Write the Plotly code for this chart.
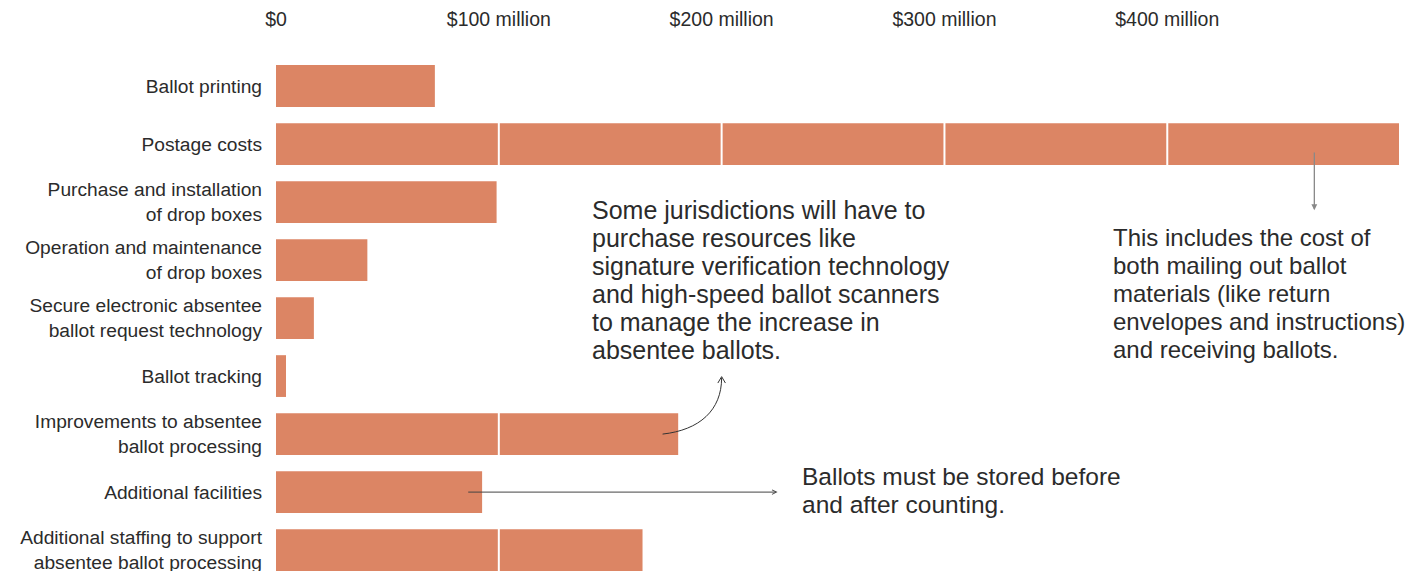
import plotly.graph_objects as go

categories = [
    "Ballot printing",
    "Postage costs",
    "Purchase and installation<br>of drop boxes",
    "Operation and maintenance<br>of drop boxes",
    "Secure electronic absentee<br>ballot request technology",
    "Ballot tracking",
    "Improvements to absentee<br>ballot processing",
    "Additional facilities",
    "Additional staffing to support<br>absentee ballot processing",
]
costs_millions = [71.3, 504, 99, 41, 17, 4.5, 180.5, 92.5, 164.5]
tick_values = [0, 100, 200, 300, 400]
tick_labels = ["$0", "$100 million", "$200 million", "$300 million", "$400 million"]

note_equipment = ["Some jurisdictions will have to", "purchase resources like",
                  "signature verification technology", "and high-speed ballot scanners",
                  "to manage the increase in", "absentee ballots."]
note_postage = ["This includes the cost of", "both mailing out ballot",
                "materials (like return", "envelopes and instructions)",
                "and receiving ballots."]
note_facilities = ["Ballots must be stored before", "and after counting."]

BAR = "#DC8564"
TEXT = "#2b2b2b"
FONT = "Liberation Sans, Arial, sans-serif"
LINE_H = 28

positions = list(range(len(categories)))

fig = go.Figure(go.Bar(
    x=costs_millions, y=positions, orientation="h",
    marker=dict(color=BAR, line=dict(width=0)),
    hoverinfo="skip",
))

shapes = []
for v in tick_values[1:]:
    shapes.append(dict(type="line", xref="x", yref="paper", x0=v, x1=v, y0=0, y1=1,
                       line=dict(color="white", width=2), layer="above"))

# curved arrow for the equipment note
shapes.append(dict(type="path", xref="x", yref="y",
                   path="M 173.5,6.0 C 190.1,5.93 200,5.59 200,5.03",
                   line=dict(color="#333333", width=1)))
shapes.append(dict(type="path", xref="x", yref="y",
                   path="M 198.3,5.12 L 200,5.01 L 201.7,5.12",
                   line=dict(color="#333333", width=1)))

ann_font = dict(family=FONT, size=24.5, color=TEXT, shadow="auto")
annotations = []


def add_note(lines, x, y, size=24.5):
    f = dict(ann_font, size=size)
    for i, line in enumerate(lines):
        annotations.append(dict(x=x, y=y, xref="x", yref="y", xanchor="left", yanchor="middle",
                                align="left", showarrow=False, font=f, text=line,
                                yshift=-LINE_H * i))


add_note(note_equipment, 140.8, 2.138, 25)
add_note(note_postage, 374.8, 2.603, 24)
add_note(note_facilities, 235.0, 6.724, 24.5)

annotations += [
    # postage arrow
    dict(x=466, y=2.14, ax=466, ay=1.12, xref="x", yref="y", axref="x", ayref="y",
         showarrow=True, arrowhead=2, arrowsize=0.9, arrowwidth=1.3, arrowcolor="#888888", text=""),
    # facilities arrow
    dict(x=225.1, y=7, ax=85.6, ay=7, xref="x", yref="y", axref="x", ayref="y",
         showarrow=True, arrowhead=5, arrowsize=0.9, arrowwidth=1, arrowcolor="#444444", text=""),
]

fig.update_layout(
    width=1414, height=571,
    margin=dict(l=268, r=23, t=49, b=8, autoexpand=False),
    paper_bgcolor="white", plot_bgcolor="white",
    bargap=0.28,
    showlegend=False,
    shapes=shapes,
    annotations=annotations,
    font=dict(family=FONT, color=TEXT),
)
fig.update_xaxes(
    side="top", range=[0, 504], tickvals=tick_values, ticktext=tick_labels,
    showgrid=False, zeroline=False, showline=False, ticks="", automargin=False,
    tickfont=dict(family=FONT, size=19.5, color=TEXT), ticklabelstandoff=26,
    ticklabeloverflow="allow", fixedrange=True,
)
fig.update_yaxes(
    range=[8.36, -0.5], tickvals=positions, ticktext=categories,
    showgrid=False, zeroline=False, showline=False, ticks="", automargin=False,
    tickfont=dict(family=FONT, size=19.2, color=TEXT), ticklabelstandoff=13,
    ticklabeloverflow="allow", fixedrange=True,
)

fig.write_html("out.html")
